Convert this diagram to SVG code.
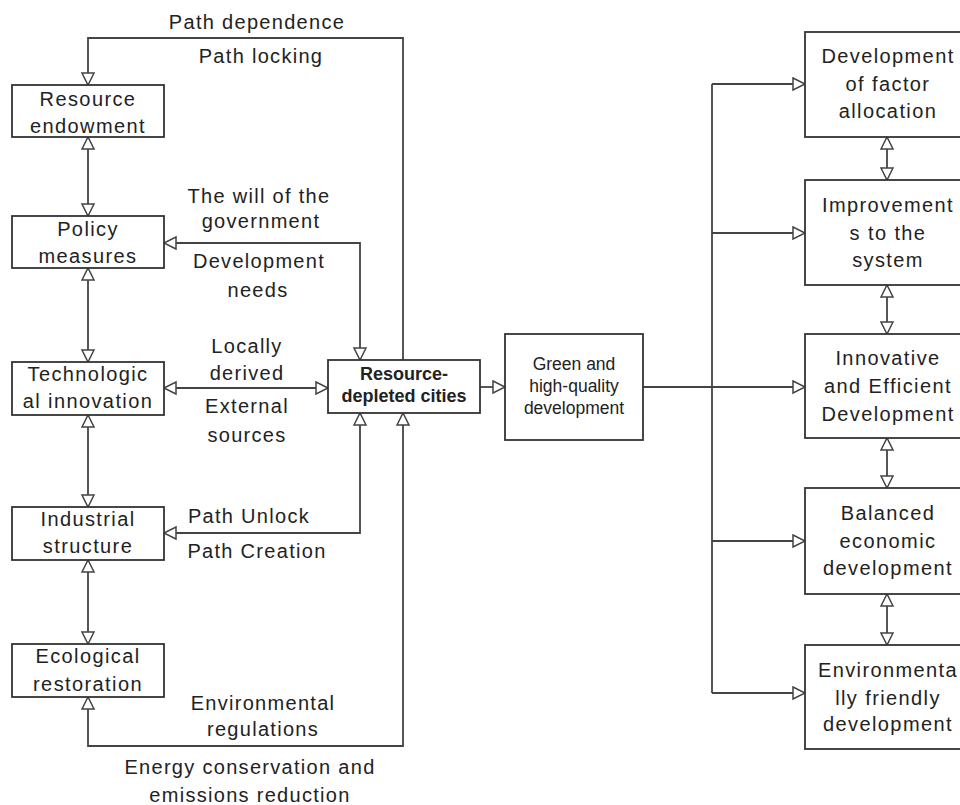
<svg xmlns="http://www.w3.org/2000/svg" width="960" height="805" viewBox="0 0 960 805">
<style>
.box{fill:#fff;stroke:#333;stroke-width:1.8}
.t{font-family:"Liberation Sans",Arial,sans-serif;font-size:20px;letter-spacing:1.4px;fill:#222;text-anchor:middle}
.lb{font-family:"Liberation Sans",Arial,sans-serif;font-size:20px;letter-spacing:1.3px;fill:#222;text-anchor:middle}
.b{font-family:"Liberation Sans",Arial,sans-serif;font-size:18px;font-weight:bold;fill:#222;text-anchor:middle}
.s{font-family:"Liberation Sans",Arial,sans-serif;font-size:17.5px;fill:#222;text-anchor:middle}
.c{fill:none;stroke:#444;stroke-width:1.8}
</style>
<defs>
<marker id="ah" markerUnits="userSpaceOnUse" markerWidth="16" markerHeight="16" refX="13" refY="7" orient="auto-start-reverse">
<path d="M1,1 L13,7 L1,13 z" fill="#fff" stroke="#444" stroke-width="1.5"/>
</marker>
</defs>
<g id="connectors">
<path class="c" d="M403,360 V38 H88 V85" marker-end="url(#ah)"/>
<path class="c" d="M360,360 V243 H164" marker-start="url(#ah)" marker-end="url(#ah)"/>
<path class="c" d="M164,388 H328" marker-start="url(#ah)" marker-end="url(#ah)"/>
<path class="c" d="M360,413 V533 H164" marker-start="url(#ah)" marker-end="url(#ah)"/>
<path class="c" d="M403,413 V746 H88 V697" marker-start="url(#ah)" marker-end="url(#ah)"/>
<path class="c" d="M88,137 V216" marker-start="url(#ah)" marker-end="url(#ah)"/>
<path class="c" d="M88,268 V362" marker-start="url(#ah)" marker-end="url(#ah)"/>
<path class="c" d="M88,415 V507" marker-start="url(#ah)" marker-end="url(#ah)"/>
<path class="c" d="M88,560 V644" marker-start="url(#ah)" marker-end="url(#ah)"/>
<path class="c" d="M480,387 H505" marker-end="url(#ah)"/>
<path class="c" d="M643,387 H712"/>
<path class="c" d="M712,84 V693"/>
<path class="c" d="M712,84 H805" marker-end="url(#ah)"/>
<path class="c" d="M712,233 H805" marker-end="url(#ah)"/>
<path class="c" d="M712,387 H805" marker-end="url(#ah)"/>
<path class="c" d="M712,541 H805" marker-end="url(#ah)"/>
<path class="c" d="M712,693 H805" marker-end="url(#ah)"/>
<path class="c" d="M887,137 V180" marker-start="url(#ah)" marker-end="url(#ah)"/>
<path class="c" d="M887,285 V334" marker-start="url(#ah)" marker-end="url(#ah)"/>
<path class="c" d="M887,438 V488" marker-start="url(#ah)" marker-end="url(#ah)"/>
<path class="c" d="M887,594 V645" marker-start="url(#ah)" marker-end="url(#ah)"/>
</g>
<g id="labels">
<text class="lb" x="257" y="29">Path dependence</text>
<text class="lb" x="261" y="63">Path locking</text>
<text class="lb" x="259" y="203">The will of the</text>
<text class="lb" x="261" y="228">government</text>
<text class="lb" x="259" y="268">Development</text>
<text class="lb" x="258" y="297">needs</text>
<text class="lb" x="247" y="353">Locally</text>
<text class="lb" x="247" y="380">derived</text>
<text class="lb" x="247" y="413">External</text>
<text class="lb" x="247" y="442">sources</text>
<text class="lb" x="249" y="523">Path Unlock</text>
<text class="lb" x="257" y="558">Path Creation</text>
<text class="lb" x="263" y="710">Environmental</text>
<text class="lb" x="263" y="736">regulations</text>
<text class="lb" x="250" y="774">Energy conservation and</text>
<text class="lb" x="250" y="802">emissions reduction</text>
</g>
<g id="resource-endowment">
<rect class="box" x="12" y="85" width="152" height="52"/>
<text class="t" x="88" y="106">Resource</text>
<text class="t" x="88" y="133">endowment</text>
</g>
<g id="policy-measures">
<rect class="box" x="12" y="216" width="152" height="52"/>
<text class="t" x="88" y="236">Policy</text>
<text class="t" x="88" y="263">measures</text>
</g>
<g id="technological-innovation">
<rect class="box" x="12" y="362" width="152" height="53"/>
<text class="t" x="88" y="381">Technologic</text>
<text class="t" x="88" y="408">al innovation</text>
</g>
<g id="industrial-structure">
<rect class="box" x="12" y="507" width="152" height="53"/>
<text class="t" x="88" y="526">Industrial</text>
<text class="t" x="88" y="553">structure</text>
</g>
<g id="ecological-restoration">
<rect class="box" x="12" y="644" width="152" height="53"/>
<text class="t" x="88" y="663">Ecological</text>
<text class="t" x="88" y="691">restoration</text>
</g>
<g id="resource-depleted-cities">
<rect class="box" x="328" y="360" width="152" height="53"/>
<text class="b" x="404" y="380">Resource-</text>
<text class="b" x="404" y="402">depleted cities</text>
</g>
<g id="green-development">
<rect class="box" x="505" y="334" width="138" height="106"/>
<text class="s" x="574" y="370">Green and</text>
<text class="s" x="574" y="392">high-quality</text>
<text class="s" x="574" y="414">development</text>
</g>
<g id="factor-allocation">
<rect class="box" x="805" y="32" width="166" height="105"/>
<text class="t" x="888" y="63">Development</text>
<text class="t" x="888" y="91">of factor</text>
<text class="t" x="888" y="118">allocation</text>
</g>
<g id="system-improvement">
<rect class="box" x="805" y="180" width="166" height="105"/>
<text class="t" x="888" y="212">Improvement</text>
<text class="t" x="888" y="240">s to the</text>
<text class="t" x="888" y="267">system</text>
</g>
<g id="innovative-development">
<rect class="box" x="805" y="334" width="166" height="104"/>
<text class="t" x="888" y="365">Innovative</text>
<text class="t" x="888" y="393">and Efficient</text>
<text class="t" x="888" y="421">Development</text>
</g>
<g id="balanced-development">
<rect class="box" x="805" y="488" width="166" height="106"/>
<text class="t" x="888" y="520">Balanced</text>
<text class="t" x="888" y="548">economic</text>
<text class="t" x="888" y="575">development</text>
</g>
<g id="environmental-development">
<rect class="box" x="805" y="645" width="166" height="104"/>
<text class="t" x="888" y="677">Environmenta</text>
<text class="t" x="888" y="705">lly friendly</text>
<text class="t" x="888" y="731">development</text>
</g>
</svg>
